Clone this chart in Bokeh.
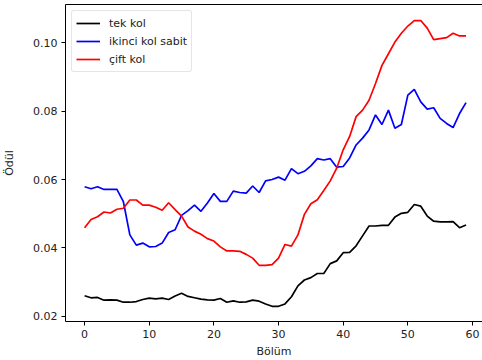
from bokeh.plotting import figure
from bokeh.models import Range1d, FixedTicker, PrintfTickFormatter, ColumnDataSource, LinearAxis
from bokeh.embed import file_html
from bokeh.resources import INLINE

episodes = list(range(60))

tek_kol = [0.0260, 0.0254, 0.0255, 0.0247, 0.0248, 0.0247, 0.0241, 0.0241, 0.0243, 0.0249,
           0.0253, 0.0251, 0.0253, 0.0249, 0.0259, 0.0267, 0.0258, 0.0254, 0.0250, 0.0248,
           0.0247, 0.0252, 0.0241, 0.0245, 0.0241, 0.0242, 0.0247, 0.0244, 0.0236, 0.0229,
           0.0229, 0.0236, 0.0257, 0.0289, 0.0306, 0.0313, 0.0325, 0.0325, 0.0354, 0.0362,
           0.0386, 0.0387, 0.0406, 0.0435, 0.0464, 0.0464, 0.0466, 0.0466, 0.0490, 0.0501,
           0.0504, 0.0527, 0.0522, 0.0493, 0.0478, 0.0476, 0.0476, 0.0477, 0.0459, 0.0467]

ikinci_kol_sabit = [0.0579, 0.0573, 0.0579, 0.0571, 0.0571, 0.0571, 0.0535, 0.0438, 0.0408, 0.0414,
                    0.0403, 0.0404, 0.0414, 0.0445, 0.0453, 0.0495, 0.0509, 0.0525, 0.0507, 0.0531,
                    0.0559, 0.0536, 0.0536, 0.0566, 0.0562, 0.0560, 0.0581, 0.0562, 0.0596, 0.0600,
                    0.0607, 0.0598, 0.0632, 0.0617, 0.0624, 0.0640, 0.0661, 0.0657, 0.0661, 0.0636,
                    0.0638, 0.0663, 0.0701, 0.0721, 0.0745, 0.0789, 0.0761, 0.0803, 0.0750, 0.0761,
                    0.0847, 0.0864, 0.0827, 0.0806, 0.0810, 0.0779, 0.0764, 0.0752, 0.0793, 0.0825]

cift_kol = [0.0459, 0.0483, 0.0491, 0.0505, 0.0502, 0.0513, 0.0516, 0.0540, 0.0540, 0.0525,
            0.0525, 0.0519, 0.0510, 0.0532, 0.0512, 0.0493, 0.0461, 0.0449, 0.0440, 0.0427,
            0.0420, 0.0403, 0.0391, 0.0391, 0.0390, 0.0381, 0.0370, 0.0349, 0.0349, 0.0351,
            0.0370, 0.0410, 0.0405, 0.0438, 0.0498, 0.0529, 0.0541, 0.0568, 0.0596, 0.0633,
            0.0687, 0.0726, 0.0784, 0.0803, 0.0832, 0.0881, 0.0934, 0.0968, 0.1002, 0.1028,
            0.1049, 0.1065, 0.1065, 0.1043, 0.1009, 0.1012, 0.1015, 0.1028, 0.1020, 0.1020]

series_names = ["tek kol", "ikinci kol sabit", "çift kol"]
series_colors = ["#000000", "#0000ff", "#ff0000"]
x_ticks = [0, 10, 20, 30, 40, 50, 60]
y_ticks = [0.02, 0.04, 0.06, 0.08, 0.10]

FONT = "DejaVu Sans"

p = figure(width=482, height=360, output_backend="svg", toolbar_location=None,
           x_range=Range1d(-2.954, 61.55), y_range=Range1d(0.01846, 0.1112),
           min_border_left=61, min_border_right=0, min_border_top=4, min_border_bottom=39)

src = ColumnDataSource(dict(x=episodes, a=tek_kol, b=ikinci_kol_sabit, c=cift_kol))
for col, name, color in zip(["a", "b", "c"], series_names, series_colors):
    p.line("x", col, source=src, line_color=color, line_width=1.7, legend_label=name)

p.xgrid.grid_line_color = None
p.ygrid.grid_line_color = None
p.outline_line_color = None
p.background_fill_color = "white"
p.border_fill_color = "white"

# top spine (matplotlib-like): an axis line with no ticks and no labels
top_spine = LinearAxis(ticker=FixedTicker(ticks=[]), axis_line_color="#000000",
                       major_tick_line_color=None, minor_tick_line_color=None,
                       major_label_standoff=0)
p.add_layout(top_spine, "above")

bottom_axis = p.below[0]
left_axis = p.left[0]
bottom_axis.ticker = FixedTicker(ticks=x_ticks)
left_axis.ticker = FixedTicker(ticks=y_ticks)
bottom_axis.formatter = PrintfTickFormatter(format="%d")
left_axis.formatter = PrintfTickFormatter(format="%.2f")

for ax in (bottom_axis, left_axis):
    ax.axis_line_color = "#000000"
    ax.major_tick_line_color = "#000000"
    ax.major_tick_out = 4
    ax.major_tick_in = 0
    ax.minor_tick_line_color = None
    ax.major_label_text_font = FONT
    ax.major_label_text_font_size = "11px"
    ax.major_label_text_color = "#222222"
    ax.axis_label_text_font = FONT
    ax.axis_label_text_font_size = "11px"
    ax.axis_label_text_font_style = "normal"
    ax.axis_label_text_color = "#222222"
    ax.major_label_standoff = 4

bottom_axis.axis_label = "Bölüm"
left_axis.axis_label = "Ödül"
bottom_axis.axis_label_standoff = 4
left_axis.axis_label_standoff = 14

lg = p.legend[0]
lg.location = "top_left"
lg.margin = 6
lg.padding = 4
lg.spacing = 2
lg.glyph_width = 24
lg.glyph_height = 16
lg.label_height = 16
lg.label_standoff = 9
lg.label_text_font = FONT
lg.label_text_font_size = "11px"
lg.label_text_color = "#222222"
lg.border_line_color = "#cccccc"
lg.border_line_width = 1
lg.border_radius = 3
lg.background_fill_alpha = 0.8

open("out.html", "w").write(file_html(p, INLINE))
